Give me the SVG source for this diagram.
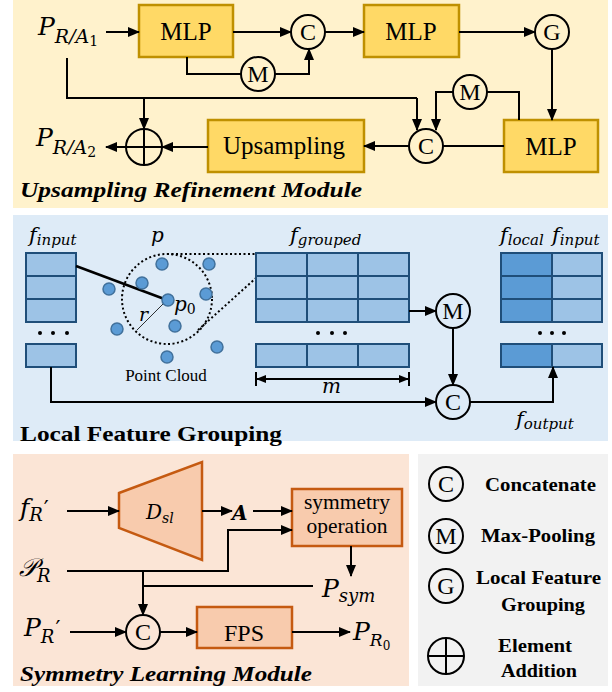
<svg xmlns="http://www.w3.org/2000/svg" width="612" height="692" viewBox="0 0 612 692">
<defs>
<marker id="ah" markerWidth="12" markerHeight="10" refX="11" refY="5" orient="auto" markerUnits="userSpaceOnUse"><path d="M0,0 L12,5 L0,10 Z" fill="#000"/></marker>
<marker id="ahs" markerWidth="10" markerHeight="8" refX="9" refY="4" orient="auto-start-reverse" markerUnits="userSpaceOnUse"><path d="M0,0 L10,4 L0,8 Z" fill="#000"/></marker>
</defs>
<style>
.ln{fill:none;stroke:#000;stroke-width:2}
.ar{fill:none;stroke:#000;stroke-width:2;marker-end:url(#ah)}
.mlp{fill:#FFD966;stroke:#BF9000;stroke-width:2.5}
.org{fill:#F8CBAD;stroke:#C55A11;stroke-width:2.5}
.circ{fill:none;stroke:#000;stroke-width:2}
.sf{font-family:"Liberation Serif","Times New Roman",Times,serif}
.ct{font-family:"Liberation Serif","Times New Roman",Times,serif;font-size:24px;text-anchor:middle}
.bt{font-family:"Liberation Serif","Times New Roman",Times,serif;font-size:25px;text-anchor:middle}
.mi{font-family:"DejaVu Serif",serif;font-style:italic}
.up{font-style:normal}
.ttl{font-family:"Liberation Serif","Times New Roman",Times,serif;font-weight:bold}
.lg{font-family:"Liberation Serif","Times New Roman",Times,serif;font-weight:bold;font-size:19px}
.cl{fill:#9DC3E6;stroke:#1F4E79;stroke-width:2}
.cd{fill:#5B9BD5;stroke:#1F4E79;stroke-width:2}
.pt{fill:#5B9BD5;stroke:#41719C;stroke-width:1.5}
.dot{fill:#000}
</style>
<!-- panels -->
<rect x="13" y="0" width="595" height="208" fill="#FFF2CC"/>
<rect x="13" y="215" width="595" height="226" fill="#DEEBF7"/>
<rect x="13" y="454" width="396" height="232" fill="#FBE5D6"/>
<rect x="418" y="454" width="190" height="232" fill="#F2F2F2"/>

<!-- Upsampling Refinement Module -->
<g id="in_pra1"><text class="mi" x="38" y="35"><tspan font-size="25">P</tspan><tspan font-size="19" dy="8">R/A</tspan><tspan class="up" font-size="14" dy="3">1</tspan></text></g>
<g id="out_pra2"><text class="mi" x="36" y="146"><tspan font-size="25">P</tspan><tspan font-size="19" dy="8">R/A</tspan><tspan class="up" font-size="14" dy="3">2</tspan></text></g>
<g id="mlp1"><rect class="mlp" x="139" y="5" width="94" height="52"/><text class="bt" x="186" y="40">MLP</text></g>
<g id="c1"><circle class="circ" cx="308" cy="32" r="17"/><text class="ct" x="308" y="40">C</text></g>
<g id="m1"><circle class="circ" cx="258" cy="74" r="17"/><text class="ct" x="258" y="82">M</text></g>
<g id="mlp2"><rect class="mlp" x="364" y="5" width="95" height="52"/><text class="bt" x="411" y="40">MLP</text></g>
<g id="g1"><circle class="circ" cx="552" cy="32" r="17"/><text class="ct" x="552" y="40">G</text></g>
<g id="mlp3"><rect class="mlp" x="504" y="120" width="94" height="52"/><text class="bt" x="551" y="155">MLP</text></g>
<g id="m2"><circle class="circ" cx="470" cy="92" r="17"/><text class="ct" x="470" y="100">M</text></g>
<g id="c2"><circle class="circ" cx="426" cy="146" r="17"/><text class="ct" x="426" y="154">C</text></g>
<g id="ups"><rect class="mlp" x="208" y="120" width="156" height="52"/><text class="bt" x="284" y="154">Upsampling</text></g>
<g id="add1"><circle class="circ" cx="144" cy="147" r="18"/><path class="ln" d="M126,147 H162 M144,129 V165"/></g>
<text class="ttl" x="20" y="197" font-size="20" font-style="italic" textLength="342" lengthAdjust="spacingAndGlyphs">Upsampling Refinement Module</text>

<!-- Local Feature Grouping -->
<g id="finput_stack">
<rect class="cl" x="26" y="253" width="50" height="23"/>
<rect class="cl" x="26" y="276" width="50" height="23"/>
<rect class="cl" x="26" y="299" width="50" height="23"/>
<circle class="dot" cx="40" cy="333" r="2"/><circle class="dot" cx="53" cy="333" r="2"/><circle class="dot" cx="67" cy="333" r="2"/>
<rect class="cl" x="26" y="344" width="50" height="23"/>
<text class="mi" x="29" y="242"><tspan font-size="21">f</tspan><tspan font-size="15" dy="3">input</tspan></text>
</g>
<g id="pointcloud">
<circle cx="167" cy="299" r="45" fill="none" stroke="#000" stroke-width="2" stroke-dasharray="2,2.5"/>
<path d="M167,254 H256 M198,330 L256,278" fill="none" stroke="#000" stroke-width="2" stroke-dasharray="2,2.5"/>
<line x1="76" y1="266" x2="167" y2="300" stroke="#000" stroke-width="2.5"/>
<line x1="167" y1="300" x2="137" y2="330" stroke="#000" stroke-width="0.8"/>
<circle class="pt" cx="162" cy="264" r="6"/><circle class="pt" cx="209" cy="264" r="6"/>
<circle class="pt" cx="142" cy="283" r="6"/><circle class="pt" cx="109" cy="289" r="6"/>
<circle class="pt" cx="168" cy="300" r="6"/><circle class="pt" cx="206" cy="294" r="6"/>
<circle class="pt" cx="117" cy="329" r="6"/><circle class="pt" cx="175" cy="326" r="6"/>
<circle class="pt" cx="217" cy="347" r="6"/><circle class="pt" cx="167" cy="357" r="6"/>
<text class="mi" x="151" y="242" font-size="20">p</text>
<text class="mi" x="139" y="321" font-size="19">r</text>
<text class="mi" x="174" y="311"><tspan font-size="20">p</tspan><tspan class="up" font-size="14" dy="3">0</tspan></text>
<text class="sf" x="166" y="381" font-size="17" text-anchor="middle">Point Cloud</text>
</g>
<g id="fgrouped">
<rect class="cl" x="256" y="253" width="51" height="23"/><rect class="cl" x="307" y="253" width="51" height="23"/><rect class="cl" x="358" y="253" width="51" height="23"/>
<rect class="cl" x="256" y="276" width="51" height="23"/><rect class="cl" x="307" y="276" width="51" height="23"/><rect class="cl" x="358" y="276" width="51" height="23"/>
<rect class="cl" x="256" y="299" width="51" height="23"/><rect class="cl" x="307" y="299" width="51" height="23"/><rect class="cl" x="358" y="299" width="51" height="23"/>
<circle class="dot" cx="318" cy="333" r="2"/><circle class="dot" cx="332" cy="333" r="2"/><circle class="dot" cx="345" cy="333" r="2"/>
<rect class="cl" x="256" y="344" width="51" height="23"/><rect class="cl" x="307" y="344" width="51" height="23"/><rect class="cl" x="358" y="344" width="51" height="23"/>
<text class="mi" x="290" y="242"><tspan font-size="21">f</tspan><tspan font-size="15" dy="3">grouped</tspan></text>
<path d="M256,372 V386 M409,372 V386" class="ln"/>
<line x1="257" y1="379" x2="408" y2="379" stroke="#000" stroke-width="2" marker-start="url(#ahs)" marker-end="url(#ahs)"/>
<text class="mi" x="322" y="393" font-size="20">m</text>
</g>
<g id="m3"><circle class="circ" cx="453" cy="311" r="17"/><text class="ct" x="453" y="319">M</text></g>
<g id="c3"><circle class="circ" cx="453" cy="402" r="17"/><text class="ct" x="453" y="410">C</text></g>
<g id="foutput_stack">
<rect class="cd" x="501" y="253" width="51" height="23"/><rect class="cl" x="552" y="253" width="50" height="23"/>
<rect class="cd" x="501" y="276" width="51" height="23"/><rect class="cl" x="552" y="276" width="50" height="23"/>
<rect class="cd" x="501" y="299" width="51" height="23"/><rect class="cl" x="552" y="299" width="50" height="23"/>
<circle class="dot" cx="540" cy="333" r="2"/><circle class="dot" cx="552" cy="333" r="2"/><circle class="dot" cx="564" cy="333" r="2"/>
<rect class="cd" x="501" y="344" width="51" height="23"/><rect class="cl" x="552" y="344" width="50" height="23"/>
<text class="mi" x="500" y="242"><tspan font-size="21">f</tspan><tspan font-size="15" dy="3">local</tspan></text>
<text class="mi" x="552" y="242"><tspan font-size="21">f</tspan><tspan font-size="15" dy="3">input</tspan></text>
<text class="mi" x="516" y="426"><tspan font-size="21">f</tspan><tspan font-size="15" dy="3">output</tspan></text>
</g>
<text class="ttl" x="20" y="441" font-size="21" textLength="262" lengthAdjust="spacingAndGlyphs">Local Feature Grouping</text>

<!-- Symmetry Learning Module -->
<g id="fr_in"><text class="mi" x="20" y="516"><tspan font-size="25">f</tspan><tspan font-size="18" dy="5">R</tspan><tspan class="up" font-size="22" dy="-5" dx="1">′</tspan></text></g>
<g id="pr_cal"><text class="mi" x="19" y="576"><tspan font-size="25">𝒫</tspan><tspan font-size="18" dy="6">R</tspan></text></g>
<g id="prp_in"><text class="mi" x="24" y="636"><tspan font-size="25">P</tspan><tspan font-size="18" dy="7">R</tspan><tspan class="up" font-size="22" dy="-7" dx="1">′</tspan></text></g>
<g id="dsl"><path class="org" d="M119,493 L202,462 L202,560 L119,528 Z"/><text class="mi" x="146" y="519"><tspan font-size="20">D</tspan><tspan font-size="14" dy="4">sl</tspan></text></g>
<g id="a_lbl"><text class="mi" x="232" y="520" font-size="20" font-weight="bold">A</text></g>
<g id="symop"><rect class="org" x="292" y="489" width="110" height="57"/><text class="sf" x="347" y="509" font-size="21.5" text-anchor="middle">symmetry</text><text class="sf" x="347" y="533" font-size="21.5" text-anchor="middle">operation</text></g>
<g id="psym"><text class="mi" x="322" y="597"><tspan font-size="25">P</tspan><tspan font-size="18" dy="5">sym</tspan></text></g>
<g id="c4"><circle class="circ" cx="143" cy="632" r="17"/><text class="ct" x="143" y="640">C</text></g>
<g id="fps"><rect class="org" x="197" y="607" width="95" height="41"/><text class="sf" x="244" y="641" font-size="24" text-anchor="middle">FPS</text></g>
<g id="pr0"><text class="mi" x="353" y="640"><tspan font-size="25">P</tspan><tspan font-size="17" dy="6">R</tspan><tspan class="up" font-size="12" dy="4">0</tspan></text></g>
<text class="ttl" x="20" y="681" font-size="20" font-style="italic" textLength="292" lengthAdjust="spacingAndGlyphs">Symmetry Learning Module</text>

<!-- Legend -->
<g id="legend">
<circle class="circ" cx="446" cy="484" r="17"/><text class="ct" x="446" y="492">C</text>
<text class="lg" x="485" y="491" textLength="111" lengthAdjust="spacingAndGlyphs">Concatenate</text>
<circle class="circ" cx="446" cy="536" r="17"/><text class="ct" x="446" y="544">M</text>
<text class="lg" x="481" y="542" textLength="114" lengthAdjust="spacingAndGlyphs">Max-Pooling</text>
<circle class="circ" cx="446" cy="586" r="17"/><text class="ct" x="446" y="594">G</text>
<text class="lg" x="476" y="584" textLength="125" lengthAdjust="spacingAndGlyphs">Local Feature</text>
<text class="lg" x="501" y="611" textLength="84" lengthAdjust="spacingAndGlyphs">Grouping</text>
<circle class="circ" cx="446" cy="656" r="18"/><path class="ln" d="M428,656 H464 M446,638 V674"/>
<text class="lg" x="498" y="652" textLength="74" lengthAdjust="spacingAndGlyphs">Element</text>
<text class="lg" x="501" y="677" textLength="76" lengthAdjust="spacingAndGlyphs">Addition</text>
</g>

<!-- connectors -->
<g id="connectors">
<line class="ar" x1="106" y1="32" x2="139" y2="32"/>
<line class="ar" x1="233" y1="32" x2="291" y2="32"/>
<path class="ln" d="M187,57 V74 H241"/>
<path class="ar" d="M275,74 H309 V49"/>
<line class="ar" x1="325" y1="32" x2="364" y2="32"/>
<line class="ar" x1="459" y1="32" x2="535" y2="32"/>
<line class="ar" x1="552" y1="49" x2="552" y2="120"/>
<path class="ln" d="M67,58 V98 H417"/>
<path class="ar" d="M417,98 V130"/>
<path class="ar" d="M144,98 V129"/>
<path class="ln" d="M519,120 V92 H487"/>
<path class="ar" d="M453,92 H436 V130"/>
<line class="ln" x1="504" y1="146" x2="443" y2="146"/>
<line class="ar" x1="409" y1="146" x2="364" y2="146"/>
<line class="ar" x1="208" y1="147" x2="162" y2="147"/>
<line class="ar" x1="126" y1="147" x2="106" y2="147"/>

<line class="ar" x1="409" y1="311" x2="436" y2="311"/>
<line class="ar" x1="453" y1="328" x2="453" y2="385"/>
<path class="ar" d="M51,367 V402 H436"/>
<path class="ar" d="M470,402 H553 V367"/>

<line class="ar" x1="67" y1="511" x2="119" y2="511"/>
<line class="ar" x1="202" y1="511" x2="232" y2="511"/>
<line class="ar" x1="253" y1="511" x2="292" y2="511"/>
<path class="ar" d="M67,571 H228 V530 H292"/>
<path class="ln" d="M143,586 H313"/>
<path class="ar" d="M143,571 V615"/>
<line class="ar" x1="351" y1="546" x2="351" y2="576"/>
<line class="ar" x1="70" y1="632" x2="126" y2="632"/>
<line class="ar" x1="160" y1="632" x2="197" y2="632"/>
<line class="ar" x1="292" y1="632" x2="350" y2="632"/>
</g>
</svg>
